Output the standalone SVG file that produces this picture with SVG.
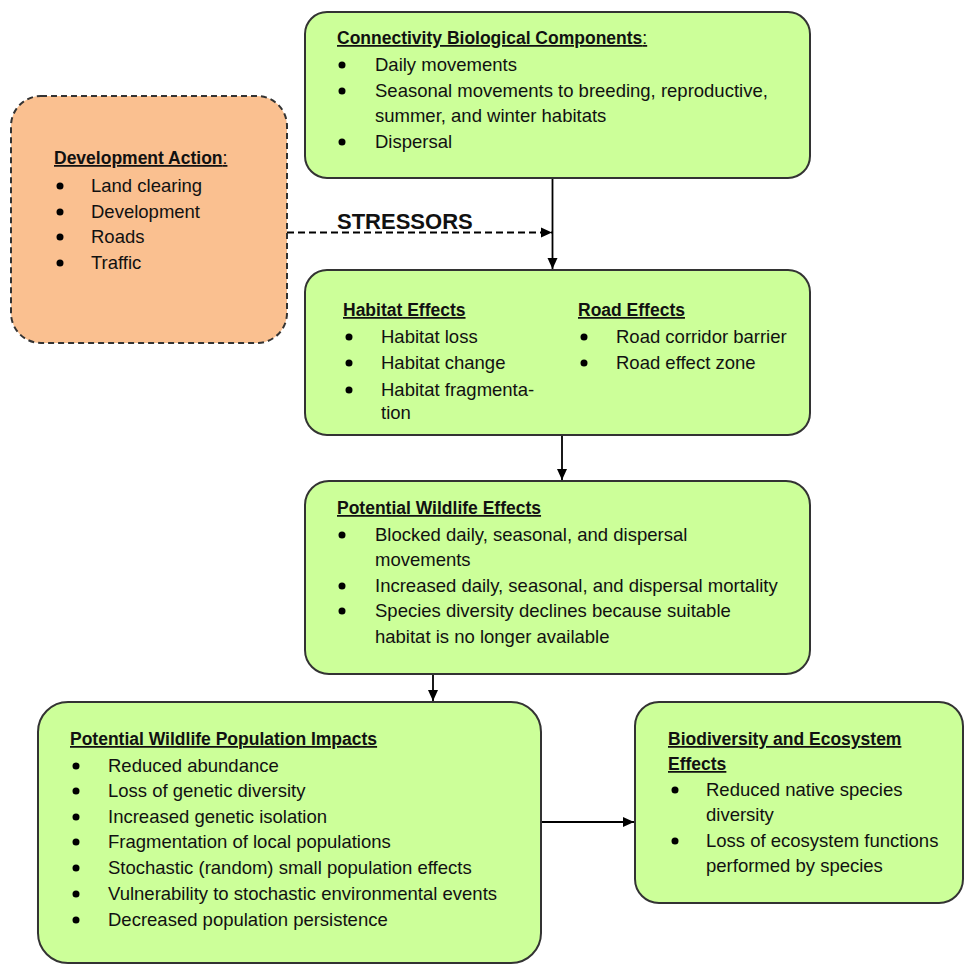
<svg xmlns="http://www.w3.org/2000/svg" width="964" height="964" viewBox="0 0 964 964">
<defs>
<marker id="ah" markerWidth="12" markerHeight="12" refX="11" refY="6" orient="auto" markerUnits="userSpaceOnUse">
<path d="M0,1 L11,6 L0,11 Z" fill="#000"/>
</marker>
<style>
.box{fill:#ccff99;stroke:#333;stroke-width:2}
.dev{fill:#fac090;stroke:#333;stroke-width:2;stroke-dasharray:6 4}
text{font-family:"Liberation Sans",Arial,sans-serif;font-size:18.5px;fill:#111}
.t{font-weight:bold;font-size:17.5px;text-decoration:underline}
.n{font-weight:normal;text-decoration:none}
.st{font-weight:bold;font-size:22px}
.b{fill:#000}
.c{stroke:#000;stroke-width:1.8;fill:none}
</style>
</defs>
<rect width="964" height="964" fill="#fff"/>

<g id="connectors">
<line class="c" x1="287" y1="232.5" x2="552" y2="232.5" stroke-dasharray="7 4" marker-end="url(#ah)"/>
<line class="c" x1="552.5" y1="178" x2="552.5" y2="269" marker-end="url(#ah)"/>
<line class="c" x1="562" y1="436" x2="562" y2="480" marker-end="url(#ah)"/>
<line class="c" x1="433" y1="674" x2="433" y2="701" marker-end="url(#ah)"/>
<line class="c" x1="541" y1="822" x2="634" y2="822" marker-end="url(#ah)"/>
<text class="st" x="337" y="229">STRESSORS</text>
</g>

<g id="connectivity">
<rect class="box" x="305" y="12" width="505" height="166" rx="22"/>
<text class="t" x="337" y="44">Connectivity Biological Components<tspan class="n">:</tspan></text>
<circle class="b" cx="342" cy="65" r="3.5"/><text x="375" y="71">Daily movements</text>
<circle class="b" cx="342" cy="91" r="3.5"/><text x="375" y="97">Seasonal movements to breeding, reproductive,</text>
<text x="375" y="122">summer, and winter habitats</text>
<circle class="b" cx="342" cy="142" r="3.5"/><text x="375" y="148">Dispersal</text>
</g>

<g id="development">
<rect class="dev" x="11" y="96" width="276" height="247" rx="30"/>
<text class="t" x="54" y="164">Development Action<tspan class="n">:</tspan></text>
<circle class="b" cx="60" cy="186" r="3.5"/><text x="91" y="192">Land clearing</text>
<circle class="b" cx="60" cy="212" r="3.5"/><text x="91" y="218">Development</text>
<circle class="b" cx="60" cy="237" r="3.5"/><text x="91" y="243">Roads</text>
<circle class="b" cx="60" cy="263" r="3.5"/><text x="91" y="269">Traffic</text>
</g>

<g id="habitat">
<rect class="box" x="305" y="270" width="505" height="165" rx="22"/>
<text class="t" x="343" y="316">Habitat Effects</text>
<circle class="b" cx="349" cy="337" r="3.5"/><text x="381" y="343">Habitat loss</text>
<circle class="b" cx="349" cy="363" r="3.5"/><text x="381" y="369">Habitat change</text>
<circle class="b" cx="349" cy="390" r="3.5"/><text x="381" y="396">Habitat fragmenta-</text>
<text x="381" y="419">tion</text>
<text class="t" x="578" y="316">Road Effects</text>
<circle class="b" cx="584" cy="337" r="3.5"/><text x="616" y="343">Road corridor barrier</text>
<circle class="b" cx="584" cy="363" r="3.5"/><text x="616" y="369">Road effect zone</text>
</g>

<g id="wildlife">
<rect class="box" x="305" y="481" width="505" height="193" rx="24"/>
<text class="t" x="337" y="514">Potential Wildlife Effects</text>
<circle class="b" cx="342" cy="535" r="3.5"/><text x="375" y="541">Blocked daily, seasonal, and dispersal</text>
<text x="375" y="566">movements</text>
<circle class="b" cx="342" cy="586" r="3.5"/><text x="375" y="592">Increased daily, seasonal, and dispersal mortality</text>
<circle class="b" cx="342" cy="611" r="3.5"/><text x="375" y="617">Species diversity declines because suitable</text>
<text x="375" y="643">habitat is no longer available</text>
</g>

<g id="population">
<rect class="box" x="38" y="702" width="503" height="261" rx="30"/>
<text class="t" x="70" y="745">Potential Wildlife Population Impacts</text>
<circle class="b" cx="76" cy="766" r="3.5"/><text x="108" y="772">Reduced abundance</text>
<circle class="b" cx="76" cy="791" r="3.5"/><text x="108" y="797">Loss of genetic diversity</text>
<circle class="b" cx="76" cy="817" r="3.5"/><text x="108" y="823">Increased genetic isolation</text>
<circle class="b" cx="76" cy="842" r="3.5"/><text x="108" y="848">Fragmentation of local populations</text>
<circle class="b" cx="76" cy="868" r="3.5"/><text x="108" y="874">Stochastic (random) small population effects</text>
<circle class="b" cx="76" cy="894" r="3.5"/><text x="108" y="900">Vulnerability to stochastic environmental events</text>
<circle class="b" cx="76" cy="920" r="3.5"/><text x="108" y="926">Decreased population persistence</text>
</g>

<g id="biodiversity">
<rect class="box" x="635" y="702" width="328" height="201" rx="24"/>
<text class="t" x="668" y="745">Biodiversity and Ecosystem</text>
<text class="t" x="668" y="770">Effects</text>
<circle class="b" cx="675" cy="790" r="3.5"/><text x="706" y="796">Reduced native species</text>
<text x="706" y="821">diversity</text>
<circle class="b" cx="675" cy="841" r="3.5"/><text x="706" y="847">Loss of ecosystem functions</text>
<text x="706" y="872">performed by species</text>
</g>
</svg>
